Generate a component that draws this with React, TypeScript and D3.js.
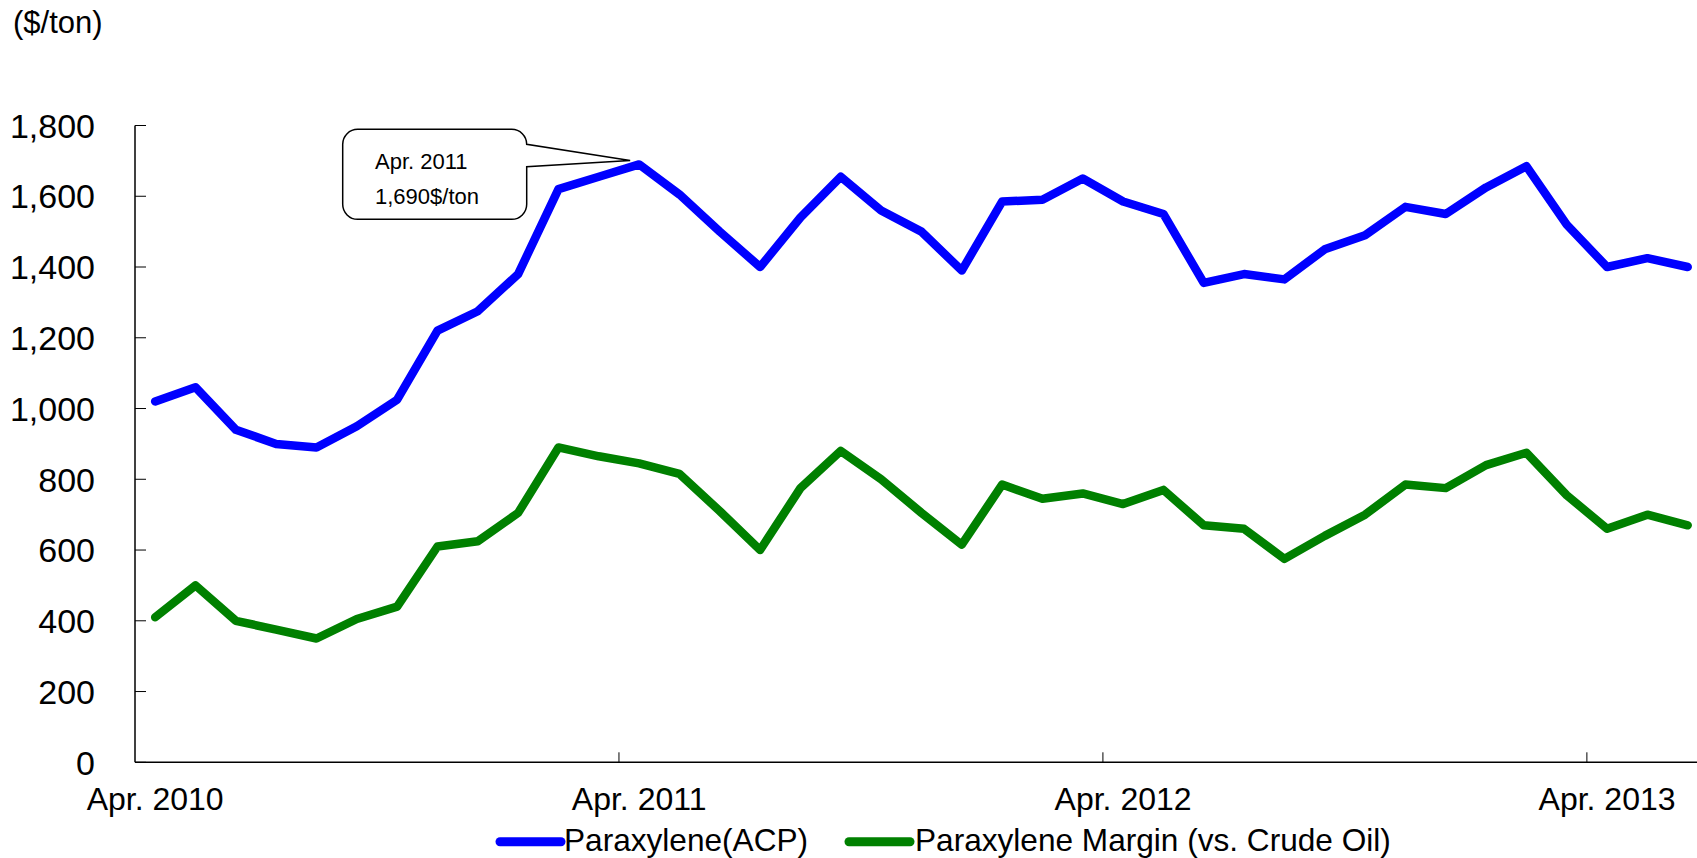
import React from "react";
import * as d3 from "d3";

const categories: string[] = [
  "2010-04","2010-05","2010-06","2010-07","2010-08","2010-09","2010-10","2010-11","2010-12",
  "2011-01","2011-02","2011-03","2011-04","2011-05","2011-06","2011-07","2011-08","2011-09",
  "2011-10","2011-11","2011-12","2012-01","2012-02","2012-03","2012-04","2012-05","2012-06",
  "2012-07","2012-08","2012-09","2012-10","2012-11","2012-12","2013-01","2013-02","2013-03",
  "2013-04","2013-05","2013-06",
];

const paraxylene: number[] = [
  1020, 1060, 940, 900, 890, 950, 1025, 1220, 1275, 1380, 1620, 1655, 1690,
  1605, 1500, 1400, 1540, 1655, 1560, 1500, 1390, 1585, 1590, 1650, 1585, 1550,
  1355, 1380, 1365, 1450, 1490, 1570, 1550, 1625, 1685, 1520, 1400, 1425, 1400,
];

const margin: number[] = [
  410, 500, 400, 375, 350, 405, 440, 610, 625, 705, 890, 865, 845,
  815, 710, 600, 775, 880, 800, 705, 615, 785, 745, 760, 730, 770,
  670, 660, 575, 640, 700, 785, 775, 840, 875, 755, 660, 700, 670,
];

const xTickLabels: string[] = ["Apr. 2010", "Apr. 2011", "Apr. 2012", "Apr. 2013"];
const yTicks: number[] = [0, 200, 400, 600, 800, 1000, 1200, 1400, 1600, 1800];
const seriesNames: string[] = ["Paraxylene(ACP)", "Paraxylene Margin (vs. Crude Oil)"];
const annotationLines: string[] = ["Apr. 2011", "1,690$/ton"];
const annotationIndex = 12;

const W = 1697;
const H = 858;
const FONT = "'Liberation Sans', Arial, sans-serif";

export default function App() {
  const left = 135;
  const catW = 40.33;
  const x = d3.scaleLinear().domain([0, categories.length]).range([left, left + categories.length * catW]);
  const y = d3.scaleLinear().domain([0, 1800]).range([762.3, 125.5]);

  const line = d3
    .line<number>()
    .x((_, i) => x(i + 0.5))
    .y((d) => y(d));

  const fmt = d3.format(",");

  // annotation callout
  const bx0 = 342.7, bx1 = 526.7, by0 = 129.3, by1 = 219.3, r = 15;
  const tipX = x(annotationIndex + 0.5) - 9;
  const tipY = y(paraxylene[annotationIndex]) - 4;
  const calloutPath = [
    `M${bx0 + r},${by0}`,
    `H${bx1 - r}`,
    `A${r},${r} 0 0 1 ${bx1},${by0 + r}`,
    `L${tipX},${tipY}`,
    `L${bx1},${166.7}`,
    `V${by1 - r}`,
    `A${r},${r} 0 0 1 ${bx1 - r},${by1}`,
    `H${bx0 + r}`,
    `A${r},${r} 0 0 1 ${bx0},${by1 - r}`,
    `V${by0 + r}`,
    `A${r},${r} 0 0 1 ${bx0 + r},${by0}`,
    "Z",
  ].join(" ");

  const colors = ["#0000FF", "#008000"];
  const legendItems = [
    { x1: 500, x2: 561, tx: 564 },
    { x1: 849, x2: 910, tx: 915 },
  ];

  return (
    <svg
      width={W}
      height={H}
      style={{ position: "absolute", left: 0, top: 0, background: "#fff" }}
      fontFamily={FONT}
    >
      <rect x={0} y={0} width={W} height={H} fill="#fff" />
      <text x={13} y={33} fontSize={31} fill="#000">($/ton)</text>

      {/* y axis */}
      <line x1={left} x2={left} y1={y(1800)} y2={y(0)} stroke="#000" strokeWidth={1.5} />
      {yTicks.map((t) => (
        <g key={t}>
          <line x1={left} x2={left + 11} y1={y(t)} y2={y(t)} stroke="#000" strokeWidth={1} />
          <text x={95} y={y(t)} dy="0.36em" textAnchor="end" fontSize={34} fill="#000">
            {fmt(t)}
          </text>
        </g>
      ))}

      {/* x axis */}
      <line x1={left} x2={W} y1={y(0)} y2={y(0)} stroke="#000" strokeWidth={1.5} />
      {xTickLabels.map((lab, k) => (
        <g key={lab}>
          {k > 0 && (
            <line x1={x(12 * k)} x2={x(12 * k)} y1={y(0)} y2={y(0) - 10} stroke="#000" strokeWidth={1} />
          )}
          <text x={x(12 * k + 0.5)} y={810} textAnchor="middle" fontSize={32} fill="#000">
            {lab}
          </text>
        </g>
      ))}

      {/* series */}
      <path d={line(margin) || ""} fill="none" stroke={colors[1]} strokeWidth={8.5} strokeLinejoin="round" strokeLinecap="round" />
      <path d={line(paraxylene) || ""} fill="none" stroke={colors[0]} strokeWidth={8.5} strokeLinejoin="round" strokeLinecap="round" />

      {/* annotation */}
      <path d={calloutPath} fill="#fff" stroke="#000" strokeWidth={1.5} />
      <text x={375} y={169.3} fontSize={22} fill="#000">{annotationLines[0]}</text>
      <text x={375} y={204} fontSize={22} fill="#000">{annotationLines[1]}</text>

      {/* legend */}
      {seriesNames.map((name, i) => (
        <g key={name}>
          <line
            x1={legendItems[i].x1}
            x2={legendItems[i].x2}
            y1={841.7}
            y2={841.7}
            stroke={colors[i]}
            strokeWidth={9}
            strokeLinecap="round"
          />
          <text x={legendItems[i].tx} y={851} fontSize={31.6} fill="#000">
            {name}
          </text>
        </g>
      ))}
    </svg>
  );
}
